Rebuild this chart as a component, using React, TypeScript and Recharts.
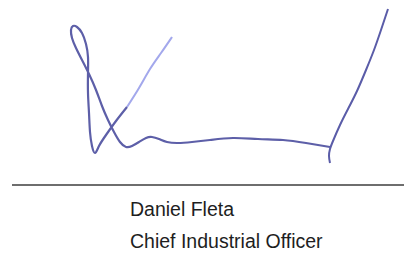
import React from "react";
import { LineChart, Line, XAxis, YAxis, ReferenceLine } from "recharts";

// Signature traced as (x, y) points in picture units
const strokeLight = [
  { x: 172, y: 37 },
  { x: 161, y: 53 },
  { x: 150, y: 69 },
  { x: 139, y: 88 },
  { x: 127, y: 107 },
];

const strokeMain = [
  { x: 127, y: 107 },
  { x: 116, y: 121 },
  { x: 106, y: 135 },
  { x: 99, y: 146 },
  { x: 95, y: 153 },
  { x: 92, y: 146 },
  { x: 90, y: 132 },
  { x: 89, y: 113 },
  { x: 88, y: 93 },
  { x: 88, y: 73 },
  { x: 88, y: 57 },
  { x: 86, y: 44 },
  { x: 82, y: 33 },
  { x: 77, y: 27 },
  { x: 73, y: 26 },
  { x: 71, y: 30 },
  { x: 72, y: 38 },
  { x: 76, y: 48 },
  { x: 82, y: 60 },
  { x: 89, y: 74 },
  { x: 96, y: 90 },
  { x: 102, y: 106 },
  { x: 108, y: 120 },
  { x: 114, y: 132 },
  { x: 120, y: 142 },
  { x: 126, y: 147 },
  { x: 132, y: 146 },
  { x: 139, y: 142 },
  { x: 146, y: 138 },
  { x: 152, y: 137 },
  { x: 159, y: 139 },
  { x: 167, y: 142 },
  { x: 178, y: 143 },
  { x: 192, y: 142 },
  { x: 210, y: 140 },
  { x: 233, y: 138 },
  { x: 258, y: 139 },
  { x: 283, y: 140 },
  { x: 306, y: 143 },
  { x: 330, y: 147 },
];

const strokeRight = [
  { x: 330, y: 163 },
  { x: 329, y: 156 },
  { x: 330, y: 149 },
  { x: 333, y: 141 },
  { x: 340, y: 125 },
  { x: 348, y: 109 },
  { x: 357, y: 91 },
  { x: 366, y: 70 },
  { x: 374, y: 50 },
  { x: 381, y: 30 },
  { x: 388, y: 9 },
];

const ruleLine = [
  { x: 12, y: 185 },
  { x: 404, y: 185 },
];

const nameLabel = "Daniel Fleta";
const titleLabel = "Chief Industrial Officer";

export default function App() {
  return (
    <div style={{ position: "absolute", left: 0, top: 0, width: 404, height: 255, background: "#fff" }}>
      <LineChart width={404} height={255} margin={{ top: 0, right: 0, bottom: 0, left: 0 }}>
        <XAxis type="number" dataKey="x" domain={[0, 404]} hide allowDataOverflow />
        <YAxis type="number" dataKey="y" domain={[0, 255]} reversed hide allowDataOverflow />
        <ReferenceLine
          segment={ruleLine}
          stroke="#6e6e6e"
          strokeWidth={2}
          ifOverflow="visible"
        />
        <Line
          data={strokeLight}
          dataKey="y"
          type="natural"
          stroke="#a3a8ec"
          strokeWidth={2}
          dot={false}
          isAnimationActive={false}
        />
        <Line
          data={strokeMain}
          dataKey="y"
          type="natural"
          stroke="#5d5fa8"
          strokeWidth={2.2}
          dot={false}
          isAnimationActive={false}
        />
        <Line
          data={strokeRight}
          dataKey="y"
          type="natural"
          stroke="#5a5ca8"
          strokeWidth={2}
          dot={false}
          isAnimationActive={false}
        />
      </LineChart>
      <svg width={404} height={255} style={{ position: "absolute", left: 0, top: 0 }}>
        <text x={130} y={216} fontFamily="'Liberation Sans', Arial, sans-serif" fontSize={19.5} fill="#1e1e1e">
          {nameLabel}
        </text>
        <text x={130} y={248} fontFamily="'Liberation Sans', Arial, sans-serif" fontSize={19.5} fill="#1e1e1e">
          {titleLabel}
        </text>
      </svg>
    </div>
  );
}
